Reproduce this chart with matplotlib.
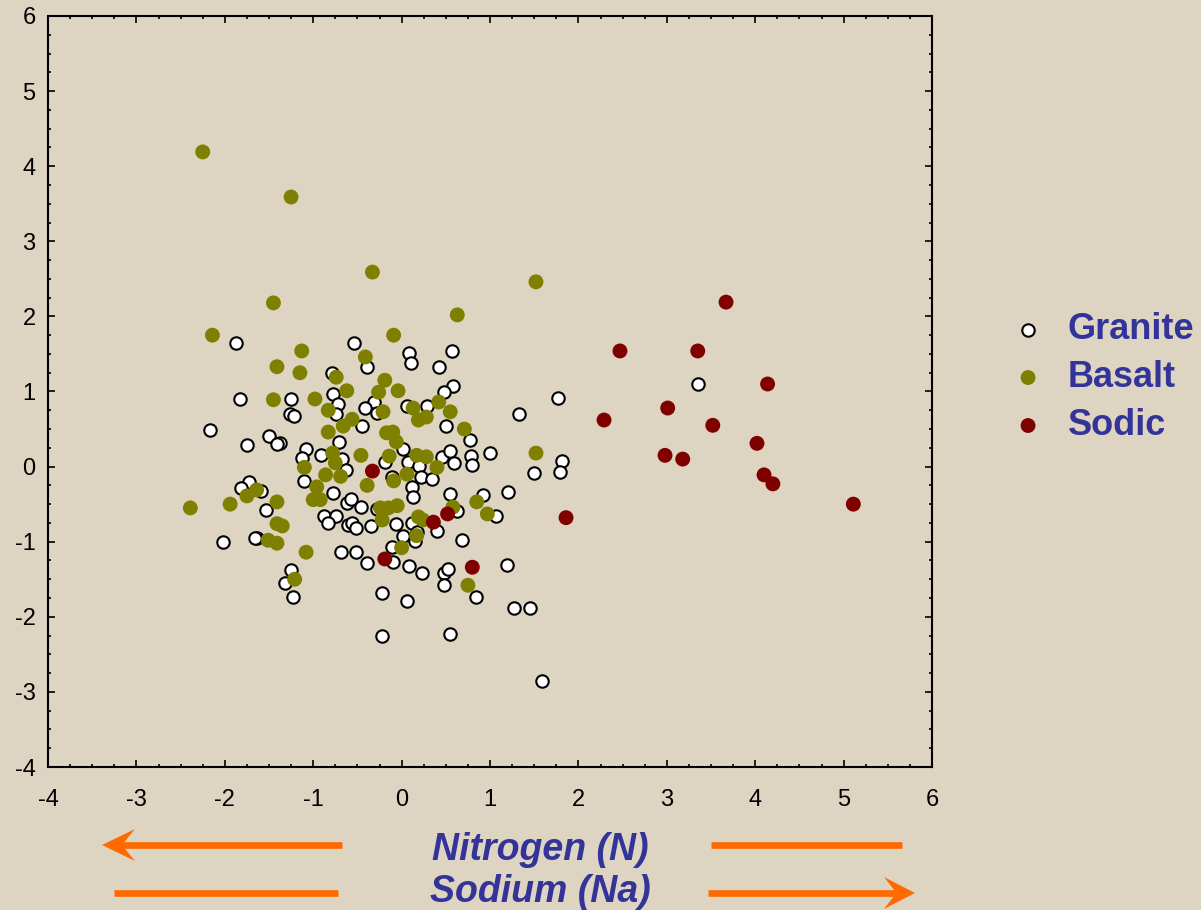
import matplotlib
matplotlib.use('Agg')
import matplotlib.pyplot as plt
from matplotlib.lines import Line2D
from matplotlib.patches import Polygon
from matplotlib.ticker import MultipleLocator

# Granite (white)
granite_x = [-1.87, -0.54, 0.08, 0.11, 0.57, -0.39, 0.42, -0.79, -1.83, -1.25,
             -0.78, -0.72, -1.26, -1.22, -0.74, 0.58, 0.48, -0.31, -0.41, -0.28,
             0.06, 0.29, -0.45, 0.50, 0.77, -0.71, -1.38, -2.17, -1.50, -1.41,
             -1.75, -1.08, -1.13, -0.91, -0.67, 0.02, -0.19, 0.07, 0.20, 0.46,
             0.59, 0.79, 0.80, -0.63, -0.11, 0.22, 0.34, -1.73, -1.82, -1.10,
             -1.59, -0.78, -0.62, -0.57, -0.46, -1.53, -0.88, -0.74, -0.83, -0.61,
             -0.56, -0.52, -0.35, -0.28, 0.12, 0.13, -0.06, 0.12, 0.55, 0.63,
             0.40, 0.02, 0.15, 0.17, 0.68, -0.11, -0.69, -0.52, -0.39, -0.10,
             0.08, 0.23, 0.48, 0.52, 0.48, 0.84, -2.02, -1.64, -1.66, -1.25,
             -1.32, -1.23, -0.22, 0.06, -0.22, 0.55, 1.77, 1.33, 1.00, 0.55,
             1.81, 1.79, 1.50, 1.20, 0.92, 1.07, 1.19, 1.27, 1.45, 1.59, 3.35]
granite_y = [1.65, 1.65, 1.51, 1.38, 1.54, 1.33, 1.33, 1.25, 0.90, 0.90,
             0.97, 0.83, 0.70, 0.67, 0.70, 1.07, 0.99, 0.86, 0.78, 0.71,
             0.81, 0.81, 0.54, 0.54, 0.35, 0.33, 0.31, 0.49, 0.41, 0.30,
             0.29, 0.23, 0.11, 0.15, 0.10, 0.23, 0.06, 0.06, 0.01, 0.13,
             0.05, 0.14, 0.02, -0.05, -0.14, -0.14, -0.17, -0.21, -0.28, -0.19,
             -0.32, -0.35, -0.48, -0.43, -0.54, -0.58, -0.66, -0.66, -0.75, -0.78,
             -0.75, -0.82, -0.79, -0.56, -0.27, -0.40, -0.76, -0.75, -0.36, -0.59,
             -0.86, -0.92, -0.99, -0.87, -0.98, -1.07, -1.14, -1.14, -1.28, -1.27,
             -1.32, -1.42, -1.42, -1.36, -1.58, -1.74, -1.00, -0.95, -0.95, -1.38,
             -1.55, -1.74, -1.68, -1.79, -2.26, -2.23, 0.91, 0.70, 0.18, 0.21,
             0.07, -0.07, -0.09, -0.34, -0.38, -0.66, -1.31, -1.88, -1.88, -2.85, 1.10]

# Basalt (olive)
basalt_x = [-2.25, -1.25, -0.33, 1.52, -1.45, 0.63, -2.14, -0.09, -1.13, -1.41,
            -0.41, -1.15, -0.74, -0.19, -0.26, -0.62, -0.04, -1.45, -0.98, -0.83,
            -0.21, 0.13, 0.42, 0.55, 0.19, 0.28, -0.66, -0.56, 0.71, -0.83,
            -0.17, -0.10, -0.06, -0.78, -0.75, -0.46, -0.14, 0.17, 0.28, 0.40,
            -1.10, -0.86, -0.69, 0.06, -0.39, -0.09, -0.96, -1.00, -0.92, -1.64,
            -1.75, -2.39, -1.94, -1.41, -0.24, -0.15, -0.05, -0.22, -1.41, -1.35,
            -1.51, -1.41, 0.19, 0.24, 0.58, 0.85, 0.97, 0.17, 0.00, -1.08,
            -1.21, 0.75, 1.52]
basalt_y = [4.19, 3.59, 2.59, 2.46, 2.18, 2.02, 1.75, 1.75, 1.54, 1.33,
            1.46, 1.25, 1.19, 1.15, 0.99, 1.01, 1.01, 0.89, 0.90, 0.75,
            0.73, 0.78, 0.86, 0.73, 0.62, 0.66, 0.54, 0.63, 0.50, 0.46,
            0.45, 0.46, 0.33, 0.18, 0.05, 0.15, 0.14, 0.15, 0.13, -0.01,
            -0.01, -0.11, -0.13, -0.10, -0.25, -0.19, -0.27, -0.44, -0.44, -0.31,
            -0.39, -0.55, -0.50, -0.47, -0.55, -0.55, -0.52, -0.71, -0.76, -0.79,
            -0.98, -1.02, -0.67, -0.71, -0.54, -0.47, -0.63, -0.92, -1.08, -1.14,
            -1.50, -1.58, 0.18]

# Sodic (dark red)
sodic_x = [2.47, 3.35, 3.67, 4.14, 2.29, 3.01, 3.52, 4.02, 2.98, 3.18,
           4.10, 4.20, 5.11, 1.86, -0.33, 0.36, 0.52, -0.19, 0.80]
sodic_y = [1.54, 1.54, 2.19, 1.10, 0.62, 0.78, 0.55, 0.31, 0.15, 0.10,
           -0.11, -0.23, -0.50, -0.68, -0.06, -0.74, -0.63, -1.23, -1.34]

labels = ['Granite', 'Basalt', 'Sodic']

BG = '#ddd5c1'
TXT = '#333399'
ORANGE = '#ff6a00'
W, H = 1201, 910

plt.rcParams['font.family'] = ['Liberation Sans', 'DejaVu Sans']
plt.rcParams['axes.unicode_minus'] = False

fig = plt.figure(figsize=(W / 100, H / 100), dpi=100, facecolor=BG)
ax = fig.add_axes([48 / W, 1 - 767 / H, (932 - 48) / W, (767 - 16) / H])
ax.set_facecolor(BG)

ax.scatter(granite_x, granite_y, s=80, c='white', edgecolors='black', linewidths=1.5,
           zorder=3, label=labels[0])
ax.scatter(basalt_x, basalt_y, s=115, c='#808000', edgecolors='none', zorder=4, label=labels[1])
ax.scatter(sodic_x, sodic_y, s=115, c='#800000', edgecolors='none', zorder=5, label=labels[2])

ax.set_xlim(-4, 6)
ax.set_ylim(-4, 6)
ax.xaxis.set_major_locator(MultipleLocator(1))
ax.yaxis.set_major_locator(MultipleLocator(1))
ax.xaxis.set_minor_locator(MultipleLocator(0.25))
ax.yaxis.set_minor_locator(MultipleLocator(0.25))
ax.tick_params(which='both', direction='in', top=True, right=True, width=1.2, labelsize=17)
ax.tick_params(which='major', length=5)
ax.tick_params(which='minor', length=2.5)
ax.tick_params(axis='x', pad=16)
ax.tick_params(axis='y', pad=9)
for sp in ax.spines.values():
    sp.set_linewidth(1.5)

leg = ax.legend(loc='upper left', bbox_to_anchor=(1010 / W, 1 - 312 / H),
                bbox_transform=fig.transFigure, frameon=False, borderpad=0,
                borderaxespad=0, handlelength=1.0, handletextpad=0.6,
                labelspacing=0.36, markerscale=1.0,
                prop={'weight': 'bold', 'size': 26})
for t in leg.get_texts():
    t.set_color(TXT)


def fp(px, py):
    return px / W, 1 - py / H


# direction arrows below the axis
def hline(x0, x1, y):
    a, b = fp(x0, y)
    c, _ = fp(x1, y)
    fig.add_artist(Line2D([a, c], [b, b], transform=fig.transFigure,
                          color=ORANGE, linewidth=4.8, solid_capstyle='butt'))


def head(tip, back, y, half):
    notch = back + (tip - back) * 0.4
    pts = [fp(tip, y), fp(back, y - half), fp(notch, y), fp(back, y + half)]
    fig.add_artist(Polygon(pts, closed=True, transform=fig.transFigure,
                           facecolor=ORANGE, edgecolor='none'))


hline(118, 342, 845)
head(102, 135, 845, 16)
hline(711, 902, 845)
hline(114, 338, 893)
hline(708, 900, 893)
head(915, 884, 893, 16)

fig.text(540 / W, 1 - 850 / H, 'Nitrogen (N)', ha='center', va='center', fontsize=27,
         fontweight='bold', fontstyle='italic', color=TXT)
fig.text(540 / W, 1 - 892 / H, 'Sodium (Na)', ha='center', va='center', fontsize=27,
         fontweight='bold', fontstyle='italic', color=TXT)

fig.savefig('out.png', dpi=100, facecolor=BG)
